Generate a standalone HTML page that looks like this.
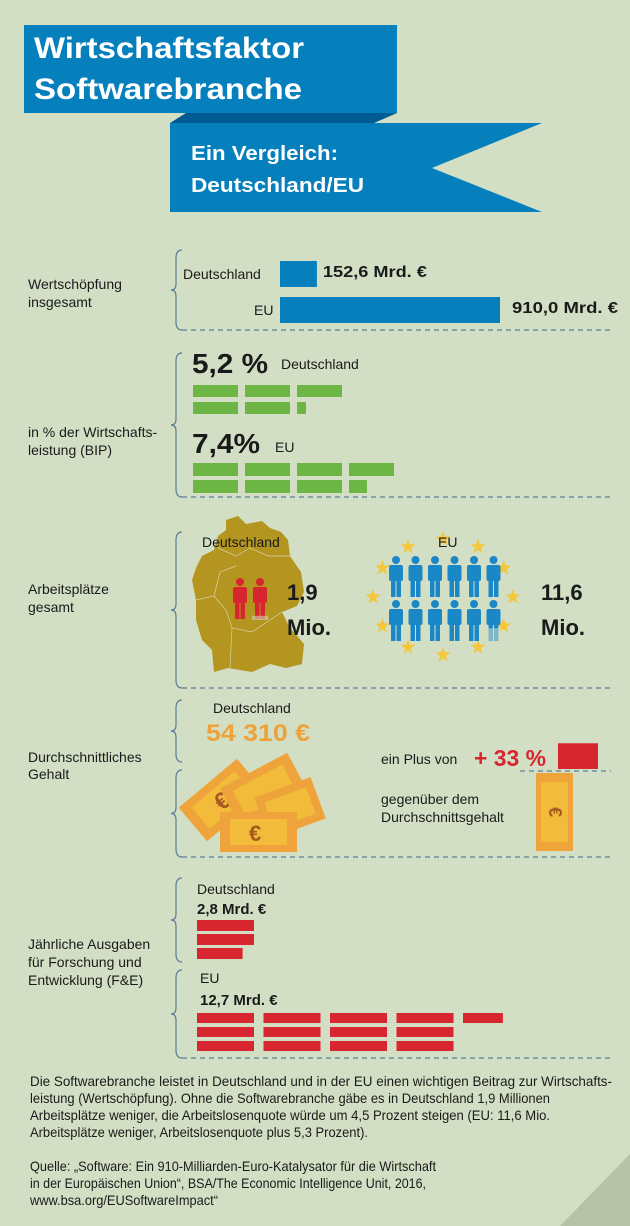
<!DOCTYPE html>
<html><head><meta charset="utf-8"><style>
html,body{margin:0;padding:0;background:#d3dfc4;}
svg{display:block;font-family:"Liberation Sans Narrow","Liberation Sans",sans-serif;}
.t{fill:#1a1a1a;font-size:14px;}
.b{font-weight:bold;fill:#1a1a1a;}
</style></head><body>
<svg id="chart" width="630" height="1226" viewBox="0 0 630 1226" xmlns="http://www.w3.org/2000/svg">
<rect width="630" height="1226" fill="#d3dfc4"/>
<!-- header -->
<g>
<polygon points="170,123 186,113 397,113 374,123" fill="#005a94"/>
<rect x="24" y="25" width="373" height="88" fill="#0580bd"/>
<text x="34" y="58" fill="#fff" font-size="30" font-weight="bold" textLength="270" lengthAdjust="spacingAndGlyphs">Wirtschaftsfaktor</text>
<text x="34" y="99" fill="#fff" font-size="30" font-weight="bold" textLength="268" lengthAdjust="spacingAndGlyphs">Softwarebranche</text>
</g>
<g>
<polygon points="170,123 542,123 432,168 542,212 170,212" fill="#0580bd"/>
<text x="191" y="160" fill="#fff" font-size="20" font-weight="bold" textLength="147" lengthAdjust="spacingAndGlyphs">Ein Vergleich:</text>
<text x="191" y="192" fill="#fff" font-size="20" font-weight="bold" textLength="173" lengthAdjust="spacingAndGlyphs">Deutschland/EU</text>
</g>
<g id="braces" fill="none" stroke="#5d7d96" stroke-width="1.2"></g>
<g id="seps" stroke="#5d7d96" stroke-width="1.3" stroke-dasharray="5,4"></g>

<!-- section 1 -->
<text class="t" x="28" y="289">Wertschöpfung</text>
<text class="t" x="28" y="307">insgesamt</text>
<g id="s1"></g>

<!-- section 2 -->
<text class="t" x="28" y="437">in % der Wirtschafts-</text>
<text class="t" x="28" y="455">leistung (BIP)</text>
<text class="b" x="192" y="373" font-size="28" font-family="Liberation Sans" textLength="76" lengthAdjust="spacingAndGlyphs">5,2 %</text>
<text class="t" x="281" y="369" font-size="15">Deutschland</text>
<text class="b" x="192" y="453" font-size="28" font-family="Liberation Sans" textLength="68" lengthAdjust="spacingAndGlyphs">7,4%</text>
<text class="t" x="275" y="452" font-size="15">EU</text>
<g id="s2"></g>

<!-- section 3 -->
<text class="t" x="28" y="594">Arbeitsplätze</text>
<text class="t" x="28" y="612">gesamt</text>
<g>
<polygon fill="#b3951f" points="226,520 238,516 246,524 262,521 270,528 281,532 288,540 290,556 301,572 304,592 297,606 282,612 290,628 304,644 302,664 286,668 270,664 252,672 228,668 214,672 212,650 202,640 196,620 196,600 192,580 196,568 202,556 214,550 218,536 226,530"/>
<g stroke="#d8d2a8" stroke-width="0.7" fill="none">
<path d="M218,548 L236,556 L250,548 L268,556 L290,556"/><path d="M196,600 L214,596 L226,610 L232,628 L252,632 L282,612"/><path d="M232,628 L230,668"/><path d="M214,596 L220,572 L236,566"/>
</g>
</g>
<text class="t" x="202" y="547" font-size="15">Deutschland</text>
<g id="s3"></g>
<text class="b" x="287" y="600" font-size="22" font-family="Liberation Sans">1,9</text>
<text class="b" x="287" y="635" font-size="22" font-family="Liberation Sans">Mio.</text>
<text class="t" x="438" y="547" font-size="15">EU</text>
<text class="b" x="541" y="600" font-size="22" font-family="Liberation Sans">11,6</text>
<text class="b" x="541" y="635" font-size="22" font-family="Liberation Sans">Mio.</text>

<!-- section 4 -->
<text class="t" x="28" y="762">Durchschnittliches</text>
<text class="t" x="28" y="779">Gehalt</text>
<text class="t" x="213" y="713" font-size="16">Deutschland</text>
<text x="206" y="741" fill="#eda23a" font-size="24" font-weight="bold" font-family="Liberation Sans" textLength="104" lengthAdjust="spacingAndGlyphs">54 310 €</text>
<g>
<g transform="translate(222,800) rotate(-40)"><rect x="-38" y="-22" width="76" height="44" fill="#eea43a"/><rect x="-28" y="-14" width="56" height="28" fill="#f3bb3a"/><text x="-7" y="9" fill="#a65a22" font-size="24" font-weight="bold">€</text></g>
<g transform="translate(264,790) rotate(-28)"><rect x="-38" y="-22" width="76" height="44" fill="#eea43a"/><rect x="-28" y="-14" width="56" height="28" fill="#f3bb3a"/></g>
<g transform="translate(290,808) rotate(-20)"><rect x="-30" y="-22" width="60" height="44" fill="#eea43a"/><rect x="-22" y="-14" width="44" height="28" fill="#f3bb3a"/></g>
<rect x="220" y="812" width="77" height="40" fill="#eea43a"/><rect x="230" y="819" width="57" height="26" fill="#f3bb3a"/>
<text x="249" y="841" fill="#a65a22" font-size="22" font-weight="bold">€</text>
</g>
<text class="t" x="381" y="764" font-size="15">ein Plus von</text>
<text x="474" y="766" fill="#d82630" font-size="23" font-weight="bold" font-family="Liberation Sans" textLength="72" lengthAdjust="spacingAndGlyphs">+ 33 %</text>
<g id="s4"></g>
<line x1="520" y1="771" x2="611" y2="771" stroke="#5d7d96" stroke-width="1.2" stroke-dasharray="5,4"/>
<text class="t" x="381" y="804" font-size="15">gegenüber dem</text>
<text class="t" x="381" y="822" font-size="15">Durchschnittsgehalt</text>

<!-- section 5 -->
<text class="t" x="28" y="949">Jährliche Ausgaben</text>
<text class="t" x="28" y="967">für Forschung und</text>
<text class="t" x="28" y="985">Entwicklung (F&amp;E)</text>
<text class="t" x="197" y="894" font-size="16">Deutschland</text>
<text class="b" x="197" y="914" font-size="15" font-family="Liberation Sans">2,8 Mrd. €</text>
<text class="t" x="200" y="983" font-size="16">EU</text>
<text class="b" x="200" y="1005" font-size="15" font-family="Liberation Sans">12,7 Mrd. €</text>
<g id="s5"></g>

<!-- footer -->
<g class="t" font-size="12.5">
<polygon points="560,1226 630,1154 630,1226" fill="#b6c3a9"/>
<text x="30" y="1086" textLength="582" lengthAdjust="spacingAndGlyphs">Die Softwarebranche leistet in Deutschland und in der EU einen wichtigen Beitrag zur Wirtschafts-</text>
<text x="30" y="1103" textLength="520" lengthAdjust="spacingAndGlyphs">leistung (Wertschöpfung). Ohne die Softwarebranche gäbe es in Deutschland 1,9 Millionen</text>
<text x="30" y="1120" textLength="520" lengthAdjust="spacingAndGlyphs">Arbeitsplätze weniger, die Arbeitslosenquote würde um 4,5 Prozent steigen (EU: 11,6 Mio.</text>
<text x="30" y="1137" textLength="338" lengthAdjust="spacingAndGlyphs">Arbeitsplätze weniger, Arbeitslosenquote plus 5,3 Prozent).</text>
<text x="30" y="1171" textLength="406" lengthAdjust="spacingAndGlyphs">Quelle: „Software: Ein 910-Milliarden-Euro-Katalysator für die Wirtschaft</text>
<text x="30" y="1188" textLength="396" lengthAdjust="spacingAndGlyphs">in der Europäischen Union“, BSA/The Economic Intelligence Unit, 2016,</text>
<text x="30" y="1205" textLength="188" lengthAdjust="spacingAndGlyphs">www.bsa.org/EUSoftwareImpact“</text>
</g>
</svg>
<script>
const NS='http://www.w3.org/2000/svg';
// ---- data ----
const wsLabels=['Deutschland','EU'];
const wsValues=[152.6,910.0];
const wsPrinted=['152,6 Mrd. €','910,0 Mrd. €'];
const bipValues=[5.2,7.4];
const jobsValues=[1.9,11.6];
const salaryPlus=[33];
const fueValues=[2.8,12.7];

function mk(tag,attrs,parent){const e=document.createElementNS(NS,tag);for(const k in attrs)e.setAttribute(k,attrs[k]);parent.appendChild(e);return e;}
const g=id=>document.getElementById(id);

// braces & separators
const braceSpans=[[250,330],[353,497],[532,688],[700,762],[770,857],[878,962],[970,1058]];
braceSpans.forEach(([a,b])=>{const m=(a+b)/2,x=182;
 const p=mk('path',{d:`M${x},${a} Q${x-6},${a} ${x-6},${a+8} L${x-6},${m-6} Q${x-6},${m} ${x-11},${m} Q${x-6},${m} ${x-6},${m+6} L${x-6},${b-8} Q${x-6},${b} ${x},${b}`},g('braces'));
 
 });
[330,497,688,857,1058].forEach(y=>{const l=mk('line',{x1:182,y1:y,x2:612,y2:y},g('seps'));
 
 });

// section 1: bars
const xs=v=>280+v*(220/910);
wsValues.forEach((v,i)=>{const y=[261,297][i];
 const r=mk('rect',{x:280,y:y,width:xs(v)-280,height:26,fill:'#0580bd'},g('s1'));
 
 
 const lt=mk('text',{x:i==0?183:254,y:y+18,class:'t','font-size':15},g('s1'));lt.textContent=wsLabels[i];
 const t=mk('text',{x:i==0?xs(v)+6:xs(v)+12,y:y+16,class:'b','font-size':16,'font-family':'Liberation Sans',textLength:i==0?104:106,lengthAdjust:'spacingAndGlyphs'},g('s1'));t.textContent=wsPrinted[i];
});

// generic unit grid (column-major)
function unitGrid(parent,val,x0,y0,rows,bw,bh,colGap,rowGap,fill,name){
 let rem=val,c=0;
 while(rem>0.001){for(let r=0;r<rows&&rem>0.001;r++){const f=Math.min(1,rem);
  const e=mk('rect',{x:x0+c*(bw+colGap),y:y0+r*(bh+rowGap),width:bw*f,height:bh,fill:fill},parent);
  
  
  rem-=f;}c++;}
}
unitGrid(g('s2'),bipValues[0],193,385,2,45,12,7,5,'#6db645','bip-unit-deutschland');
unitGrid(g('s2'),bipValues[1],193,463,2,45,13,7,4,'#6db645','bip-unit-eu');

// section 3: people
function person(parent,x,y,fill,frac,name){
 const gg=mk('g',{},parent);
 
 const grp=mk('g',{fill:fill},gg);
 mk('circle',{cx:x+7,cy:y+4,r:4},grp);
 mk('rect',{x:x,y:y+9,width:14,height:16,rx:2},grp);
 mk('rect',{x:x+2,y:y+24,width:4.5,height:17},grp);
 mk('rect',{x:x+7.5,y:y+24,width:4.5,height:17},grp);
 if(frac<1){mk('rect',{x:x-1,y:y+9+32*frac,width:16,height:33-32*frac,fill:'#d3dfc4',opacity:0.55},gg);}
}
// EU stars
for(let k=0;k<12;k++){const a=k*Math.PI/6,cx=443+Math.sin(a)*70,cy=597-Math.cos(a)*58;
 const pts=[];for(let j=0;j<10;j++){const rr=j%2?3.2:8,aa=j*Math.PI/5;pts.push((cx+Math.sin(aa)*rr).toFixed(1)+','+(cy-Math.cos(aa)*rr).toFixed(1));}
 const s=mk('polygon',{points:pts.join(' '),fill:'#f5c63a'},g('s3'));
 
 }
(function(){let rem=jobsValues[0];for(let i=0;rem>0.001;i++){const f=Math.min(1,rem);person(g('s3'),233+i*20,578,'#d82630',f,'person-deutschland');rem-=f;}})();
(function(){let rem=jobsValues[1];for(let i=0;rem>0.001;i++){const f=Math.min(1,rem);const r=Math.floor(i/6),c=i%6;person(g('s3'),389+c*19.5,556+r*44,'#1a87c6',f,'person-eu');rem-=f;}})();

// section 4: plus bar
(function(){const h=salaryPlus[0]/100*78;
 const r=mk('rect',{x:558,y:769-h,width:40,height:h,fill:'#d82630'},g('s4'));
 
 
 const b=mk('rect',{x:536,y:773,width:37,height:78,fill:'#eea43a'},g('s4'));
 
 
 mk('rect',{x:541,y:782,width:27,height:60,fill:'#f3bb3a'},g('s4'));
 const t=mk('text',{x:555,y:818,fill:'#a65a22','font-size':18,'font-weight':'bold','text-anchor':'middle',transform:'rotate(90 555 812)'},g('s4'));t.textContent='€';
})();

// section 5
unitGrid(g('s5'),fueValues[0],197,920,3,57,11,9,3,'#d82630','fue-unit-deutschland');
unitGrid(g('s5'),fueValues[1],197,1013,3,57,10,9.5,4,'#d82630','fue-unit-eu');
</script>
</body></html>
